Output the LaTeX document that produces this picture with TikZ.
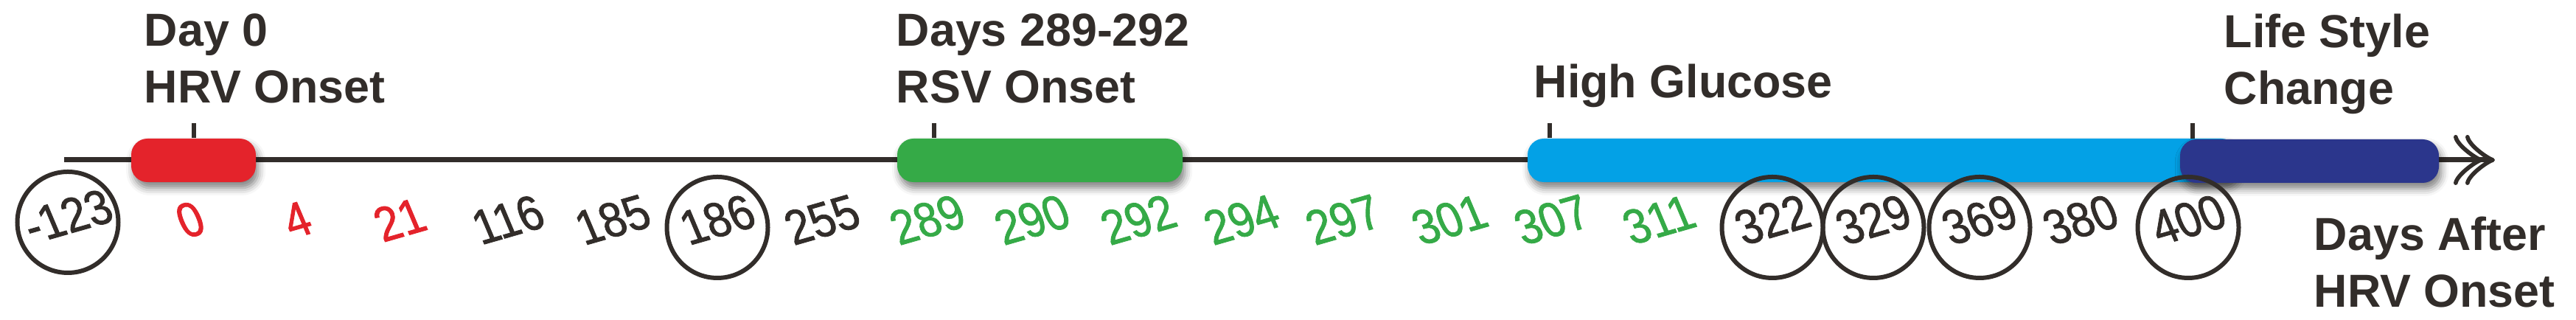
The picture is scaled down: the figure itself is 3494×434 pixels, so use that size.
\documentclass[tikz,border=0pt]{standalone}
\usepackage{fontspec}
\setmainfont{Liberation Sans}
\newfontfamily\numfont[FakeStretch=0.88,FakeBold=1.2]{Liberation Sans}
\usetikzlibrary{arrows.meta, positioning, shadows.blur}
\definecolor{tred}{HTML}{E4232B}
\definecolor{tgreen}{HTML}{35AA47}
\definecolor{tblue}{HTML}{03A1E6}
\definecolor{tnavy}{HTML}{2B368C}
\definecolor{tgray}{HTML}{322D2A}
\newcommand{\pxu}{0.25pt}
\tikzstyle{phase} = [rectangle, rounded corners=5.5pt, minimum height=59*\pxu, inner sep=0, blur shadow={shadow xshift=0.8pt, shadow yshift=-2pt, shadow blur radius=2.5pt, shadow opacity=50}]
\tikzstyle{event} = [anchor=north west, inner sep=0, align=left, text=tgray, font=\bfseries\fontsize{15.7pt}{19.25pt}\selectfont]
\tikzstyle{day} = [inner sep=0, rotate=16, xslant=-0.12, text=tgray, font=\numfont\fontsize{16.8pt}{20pt}\selectfont]
\tikzstyle{visit} = [circle, draw=tgray, line width=1.5pt, minimum size=137*\pxu, inner sep=0]
\tikzstyle{tick} = [draw=tgray, line width=1.5pt]
\tikzstyle{axis} = [draw=tgray, line width=1.75pt, -{Classical TikZ Rightarrow[length=10pt,width=17pt,line width=1.4pt,sep=-6pt]Classical TikZ Rightarrow[length=10pt,width=17pt,line width=1.4pt,sep=-6pt]}]

\begin{document}
\begin{tikzpicture}[x=\pxu, y=\pxu]
  \useasboundingbox (0,0) rectangle (3494,434);
  \coordinate (start) at (87,217);
  \coordinate (end) at (3360,217);
  \draw [axis] (start) -- (end);
  \node (hrv) [phase, fill=tred, minimum width=169*\pxu] at (262.5,216.5) {};
  \node (rsv) [phase, fill=tgreen, minimum width=387*\pxu] at (1410.5,216.5) {};
  \node (glucose) [phase, fill=tblue, minimum width=963*\pxu] at (2553.5,216.5) {};
  \node (lifestyle) [phase, fill=tnavy, minimum width=351*\pxu] at (3132.5,215.5) {};
  \coordinate (hrvtick) at (263,267);
  \coordinate (rsvtick) at (1267,267);
  \coordinate (glutick) at (2102,267);
  \coordinate (lstick) at (2974,267);
  \draw [tick] (hrvtick) -- (hrvtick |- hrv.north);
  \draw [tick] (rsvtick) -- (rsvtick |- rsv.north);
  \draw [tick] (glutick) -- (glutick |- glucose.north);
  \draw [tick] (lstick) -- (lstick |- lifestyle.north);
  \node (hrvlab) [event] at (195,416) {Day 0\\HRV Onset};
  \node (rsvlab) [event] at (1215,416) {Days 289-292\\RSV Onset};
  \node (glulab) [event, anchor=base west] at (2080,301) {High Glucose};
  \node (lslab) [event] at (3016,416) {Life Style\\Change};
  \node (unitlab) [event] at (3138,141) {Days After\\HRV Onset};
  \node (dm123) [day] at (92,140.5) {-123};
  \foreach \x/\d/\c in {258/0/tred, 403/4/tred, 542/21/tred, 689/116/tgray, 831/185/tgray, 973/186/tgray, 1115/255/tgray, 1258/289/tgreen, 1400/290/tgreen, 1544/292/tgreen, 1684/294/tgreen, 1822/297/tgreen, 1966/301/tgreen, 2105/307/tgreen, 2250/311/tgreen, 2404/322/tgray, 2541/329/tgray, 2685/369/tgray, 2822/380/tgray, 2968/400/tgray}
    \node (d\d) [day, text=\c] at (\x,136) {\d};
  \node (cm123) [visit] at ([yshift=-8*\pxu]dm123.center) {};
  \foreach \d in {186,322,329,369,400}
    \node (c\d) [visit] at ([yshift=-10.5*\pxu]d\d.center) {};
\end{tikzpicture}
\end{document}
